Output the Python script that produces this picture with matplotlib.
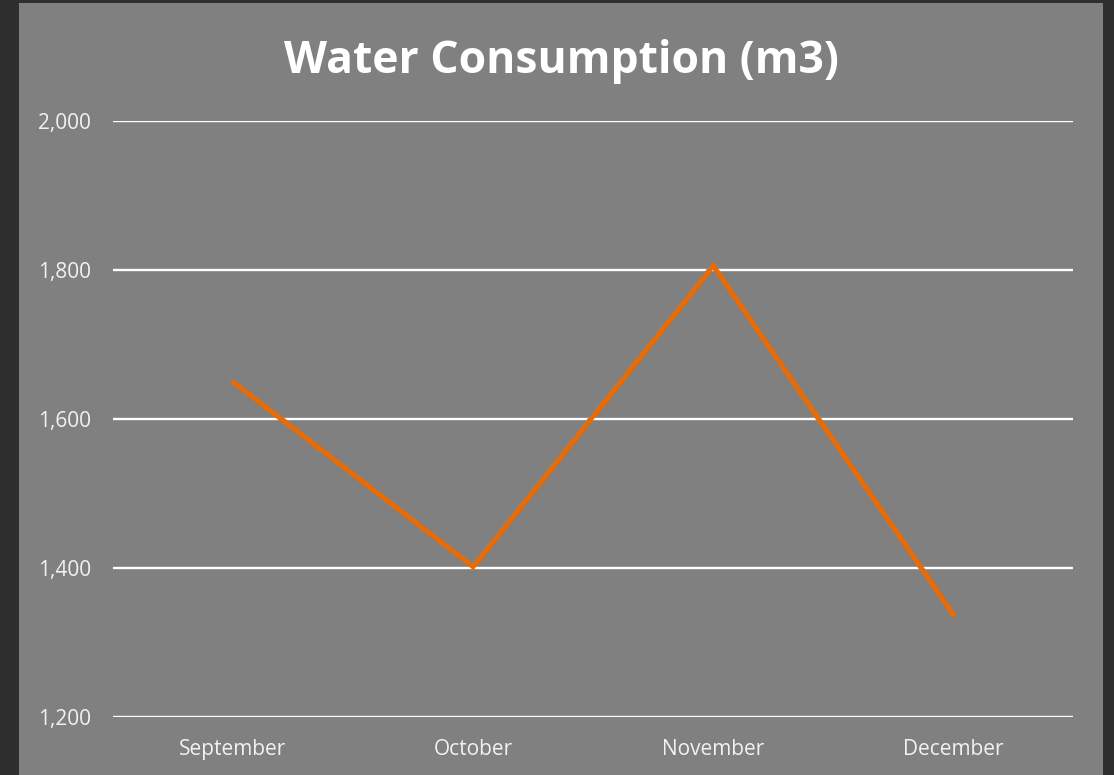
import matplotlib.pyplot as plt
from matplotlib.patches import Rectangle
from matplotlib.ticker import FuncFormatter

months = ['September', 'October', 'November', 'December']
consumption = [1650, 1402, 1806, 1338]
y_ticks = [1200, 1400, 1600, 1800, 2000]

W, H = 1114, 775
fig = plt.figure(figsize=(W / 100, H / 100), dpi=100)
fig.patch.set_facecolor('#2e2e2e')

# gray chart panel inside the dark border
fig.add_artist(Rectangle((19 / W, 0), (1103 - 19) / W, (775 - 3) / H,
                         transform=fig.transFigure, facecolor='#808080',
                         edgecolor='none', zorder=0))

ax = fig.add_axes([113 / W, 58 / H, 960 / W, (717 - 121) / H])
ax.set_facecolor('none')

ax.plot(range(len(months)), consumption, color='#E46C0A', linewidth=3.8,
        solid_capstyle='round', solid_joinstyle='miter', zorder=3)

ax.set_xlim(-0.5, len(months) - 0.5)
ax.set_ylim(1200, 2000)
ax.set_yticks(y_ticks)
ax.yaxis.set_major_formatter(FuncFormatter(lambda v, p: f'{int(v):,}'))
ax.set_xticks(range(len(months)))
ax.set_xticklabels(months)

ax.grid(axis='y', color='white', linewidth=1.7, snap=False)
ax.set_axisbelow(True)
for s in ax.spines.values():
    s.set_visible(False)
ax.tick_params(axis='both', length=0, colors='#f2f2f2', labelsize=15)
ax.tick_params(axis='y', pad=16)
ax.tick_params(axis='x', pad=16)
for lbl in ax.get_xticklabels() + ax.get_yticklabels():
    lbl.set_fontfamily('Open Sans')

fig.text(561 / W, 1 - 62 / H, 'Water Consumption (m3)', ha='center', va='center',
         color='white', fontsize=32, fontweight='bold', fontfamily='Open Sans')

plt.savefig('out.png', dpi=100, facecolor=fig.get_facecolor())
